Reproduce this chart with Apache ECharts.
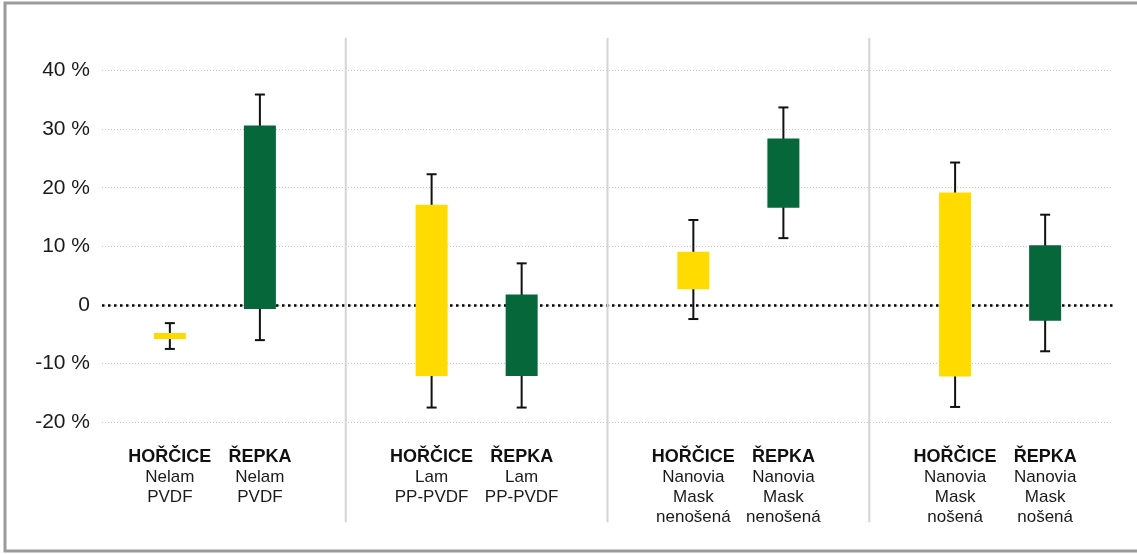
<!DOCTYPE html>
<html>
<head>
<meta charset="utf-8">
<script src="https://cdn.jsdelivr.net/npm/echarts@6/dist/echarts.min.js"></script>
<style>
html,body{margin:0;padding:0;background:#fff;}
#c{width:1137px;height:554px;}
</style>
</head>
<body>
<div id="c"></div>
<script>
// ---- data ----
const groups = ['Nelam\nPVDF', 'Lam\nPP-PVDF', 'Nanovia\nMask\nnenošená', 'Nanovia\nMask\nnošená'];
const speciesA = 'HOŘČICE';
const speciesB = 'ŘEPKA';
// HOŘČICE (yellow): box low/high, whisker low/high (in %)
const mustardLow = [-5.8, -12.1, 2.7, -12.2];
const mustardHigh = [-4.8, 17.1, 9.1, 19.2];
const mustardErrLow = [-7.5, -17.5, -2.4, -17.4];
const mustardErrHigh = [-3.1, 22.3, 14.5, 24.3];
// ŘEPKA (green)
const rapeLow = [-0.7, -12.1, 16.6, -2.7];
const rapeHigh = [30.6, 1.8, 28.4, 10.2];
const rapeErrLow = [-6.0, -17.5, 11.4, -7.9];
const rapeErrHigh = [35.9, 7.1, 33.7, 15.4];
const yTicks = [-20, -10, 0, 10, 20, 30, 40];

const FONT = '"Liberation Sans", Arial, Helvetica, sans-serif';
const chart = echarts.init(document.getElementById('c'), null, {renderer: 'canvas'});

function build(low, high, eLow, eHigh) {
  return groups.map((g, i) => [i, low[i], high[i], eLow[i], eHigh[i]]);
}

function makeRender(side, species, color, drawSeparators) {
  return function (params, api) {
    const i = api.value(0);
    const lo = api.value(1), hi = api.value(2), elo = api.value(3), ehi = api.value(4);
    const band = api.size([1, 0])[0];
    const base = api.coord([i, 0]);
    const cx = base[0] + side * band * 0.172;
    const yHi = api.coord([i, hi])[1];
    const yLo = api.coord([i, lo])[1];
    const yEHi = api.coord([i, ehi])[1];
    const yELo = api.coord([i, elo])[1];
    const yBottom = api.coord([i, yTicks[0]])[1];
    const cs = params.coordSys;
    const bw = 32, cap = 5;
    const ls = {stroke: '#111', lineWidth: 2};
    const children = [];
    if (drawSeparators && i > 0) {
      const sx = base[0] - band / 2;
      children.push({type: 'line', shape: {x1: sx, y1: cs.y - 32.5, x2: sx, y2: cs.y + cs.height + 100},
        style: {stroke: '#d4d4d4', lineWidth: 2}, silent: true});
    }
    children.push({type: 'line', shape: {x1: cx, y1: yEHi, x2: cx, y2: yELo}, style: ls});
    children.push({type: 'line', shape: {x1: cx - cap, y1: yEHi, x2: cx + cap, y2: yEHi}, style: ls});
    children.push({type: 'line', shape: {x1: cx - cap, y1: yELo, x2: cx + cap, y2: yELo}, style: ls});
    children.push({type: 'rect', shape: {x: cx - bw / 2, y: Math.min(yHi, yLo), width: bw, height: Math.abs(yLo - yHi)},
      style: {fill: color}});
    children.push({type: 'text', x: cx, y: yBottom + 35,
      style: {text: species, fill: '#111', font: 'bold 18px ' + FONT, align: 'center', verticalAlign: 'middle'}});
    children.push({type: 'text', x: cx, y: yBottom + 45.5,
      style: {text: groups[i], fill: '#1a1a1a', font: '17px ' + FONT, align: 'center', verticalAlign: 'top', lineHeight: 20}});
    return {type: 'group', children: children};
  };
}

const gridTop = 70.5, gridBottom = 131.8;

chart.setOption({
  animation: false,
  backgroundColor: '#fff',
  graphic: [{
    type: 'rect', shape: {x: 5, y: 3, width: 1140, height: 548},
    style: {fill: 'none', stroke: '#9a9a9a', lineWidth: 3}, silent: true, z: 100
  }],
  grid: [
    {left: 102, right: 24, top: gridTop, bottom: gridBottom},
    {left: 84, right: 6, top: gridTop, bottom: gridBottom}
  ],
  xAxis: [
    {gridIndex: 0, type: 'value', min: 0, max: 1, axisLabel: {show: false}, axisTick: {show: false},
      splitLine: {show: false},
      axisLine: {show: true, onZero: true, lineStyle: {color: '#000', width: 2.5, type: [2.5, 3.5], cap: 'butt'}}},
    {gridIndex: 1, type: 'category', data: groups, axisLabel: {show: false}, axisTick: {show: false},
      axisLine: {show: false}, splitLine: {show: false}}
  ],
  yAxis: [
    {gridIndex: 0, type: 'value', min: yTicks[0], max: yTicks[yTicks.length - 1], interval: 10,
      axisLine: {show: false}, axisTick: {show: false},
      axisLabel: {margin: 12, color: '#1a1a1a', fontSize: 21, fontFamily: FONT,
        formatter: v => v === 0 ? '0' : v + ' %'},
      splitLine: {show: true, lineStyle: {color: '#c4c4c4', width: 1, type: [1, 2]}}},
    {gridIndex: 1, type: 'value', min: yTicks[0], max: yTicks[yTicks.length - 1], interval: 10,
      axisLine: {show: false}, axisTick: {show: false}, axisLabel: {show: false}, splitLine: {show: false}}
  ],
  series: [
    {type: 'custom', name: speciesA, xAxisIndex: 1, yAxisIndex: 1, clip: false,
      renderItem: makeRender(-1, speciesA, '#FFDB00', true),
      encode: {x: 0, y: [1, 2, 3, 4]},
      data: build(mustardLow, mustardHigh, mustardErrLow, mustardErrHigh)},
    {type: 'custom', name: speciesB, xAxisIndex: 1, yAxisIndex: 1, clip: false,
      renderItem: makeRender(1, speciesB, '#05673A', false),
      encode: {x: 0, y: [1, 2, 3, 4]},
      data: build(rapeLow, rapeHigh, rapeErrLow, rapeErrHigh)}
  ]
});
</script>
</body>
</html>
